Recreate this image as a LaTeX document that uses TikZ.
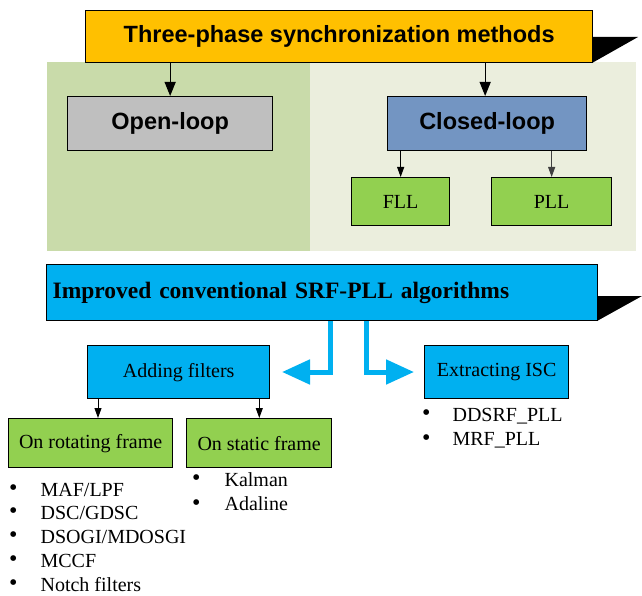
\documentclass[tikz,border=0pt]{standalone}
\usepackage{fontspec}
\setmainfont{Liberation Serif}
\newfontfamily\arialf{Liberation Sans}
\usetikzlibrary{arrows.meta,positioning,calc}
\definecolor{cyellow}{HTML}{FFC000}
\definecolor{bgleft}{HTML}{C9DBAA}
\definecolor{bgright}{HTML}{EBEEDD}
\definecolor{cgray}{HTML}{BFBFBF}
\definecolor{cblue}{HTML}{7395C2}
\definecolor{cgreen}{HTML}{92D050}
\definecolor{ccyan}{HTML}{00B0F0}
\newcommand{\bul}{\raisebox{0.5pt}{\fontsize{24}{24}\selectfont\textbullet}}
\tikzset{
  box/.style={draw=black,line width=1.3pt,inner sep=0pt,anchor=north west},
  sanslabel/.style={font=\arialf\bfseries\fontsize{23.5}{28}\selectfont},
  seriflabel/.style={font=\fontsize{20}{24}\selectfont},
  bigarr/.style={-{Triangle[length=14pt,width=11pt]},line width=1.2pt},
  smallarr/.style={-{Triangle[length=10pt,width=7pt]},line width=0.9pt},
  fatarr/.style={-{Triangle[length=28pt,width=24pt]},line width=5pt,draw=ccyan,line join=miter},
  blist/.style={anchor=north west,inner sep=0pt,font=\fontsize{20}{24}\selectfont,align=left}
}
\begin{document}
\begin{tikzpicture}[x=1pt,y=-1pt]
\useasboundingbox (0,0) rectangle (642,596);
% backgrounds
\fill[bgleft] (47,62) rectangle (310,251);
\fill[bgright] (310,62) rectangle (636,251);
% top box shadow and box
\fill[black] (592,37) -- (638,37) -- (592,63) -- cycle;
\node[box,fill=cyellow,minimum width=507pt,minimum height=52pt,sanslabel] (top) at (85,10) {Three-phase synchronization methods};
% open / closed
\node[box,fill=cgray,minimum width=205pt,minimum height=54pt,sanslabel] (open) at (67,96) {Open-loop};
\node[box,fill=cblue,minimum width=199pt,minimum height=54pt,sanslabel] (closed) at (387,96) {Closed-loop};
\draw[bigarr] (open.north |- top.south) -- (open.north);
\draw[bigarr] ([xshift=-2pt]closed.north |- top.south) -- ([xshift=-2pt]closed.north);
% FLL / PLL
\node[box,fill=cgreen,minimum width=98pt,minimum height=48pt,seriflabel] (fll) at (351,177) {FLL};
\node[box,fill=cgreen,minimum width=120pt,minimum height=48pt,seriflabel] (pll) at (491,177) {PLL};
\draw[smallarr] (fll.north |- closed.south) -- (fll.north);
\draw[smallarr,draw=black!75] (pll.north |- closed.south) -- (pll.north);
% improved box
\fill[black] (597,296) -- (642,296) -- (597,321) -- cycle;
\node[box,fill=ccyan,minimum width=551pt,minimum height=56pt,text width=551pt,align=left,font=\bfseries\fontsize{23.5}{28}\selectfont] (imp) at (46,264) {\hspace*{6pt}Improved conventional SRF-PLL algorithms};
% adding / extracting
\node[box,fill=ccyan,minimum width=182pt,minimum height=53pt,seriflabel] (add) at (87,345) {Adding filters};
\node[box,fill=ccyan,minimum width=144pt,minimum height=53pt,seriflabel] (ext) at (424,345) {Extracting ISC};
\coordinate (lt) at (282,372);
\coordinate (rt) at (414,372);
\draw[fatarr] ([xshift=-268pt]imp.south east) |- (lt);
\draw[fatarr] ([xshift=-232pt]imp.south east) |- (rt);
% rotating / static
\node[box,fill=cgreen,minimum width=164pt,minimum height=49pt,seriflabel] (rot) at (8,418) {On rotating frame};
\node[box,fill=cgreen,minimum width=145pt,minimum height=49pt,seriflabel] (sta) at (186,418) {On static frame};
\draw[smallarr] ([xshift=11pt]add.south west) -- ([xshift=11pt]add.south west |- rot.north);
\draw[smallarr] ([xshift=-11pt]add.south east) -- ([xshift=-11pt]add.south east |- sta.north);
% lists
\node[blist] (l1) at (9,479) {\begin{tabular}{@{}l@{\hspace{23pt}}l@{}}
\bul & MAF/LPF\\[-1pt]
\bul & DSC/GDSC\\[0pt]
\bul & DSOGI/MDOSGI\\[0pt]
\bul & MCCF\\[0pt]
\bul & Notch filters
\end{tabular}};
\node[blist] (l2) at (192,469) {\begin{tabular}{@{}l@{\hspace{24pt}}l@{}}
\bul & Kalman\\[0.5pt]
\bul & Adaline
\end{tabular}};
\node[blist] (l3) at (422,404) {\begin{tabular}{@{}l@{\hspace{22pt}}l@{}}
\bul & DDSRF\_PLL\\[0.5pt]
\bul & MRF\_PLL
\end{tabular}};
\end{tikzpicture}
\end{document}
